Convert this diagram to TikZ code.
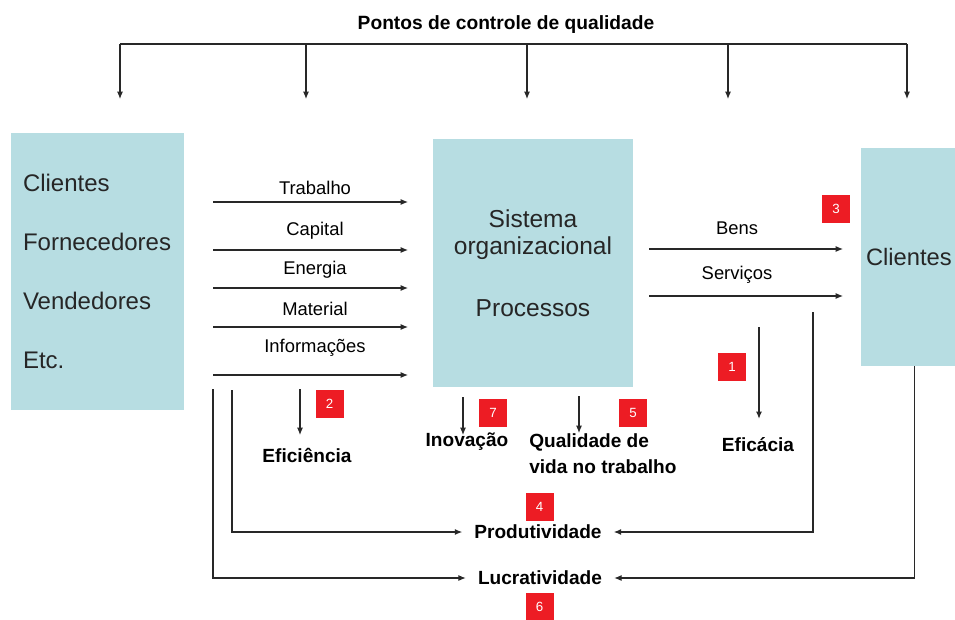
\documentclass[tikz,border=0pt]{standalone}
\usepackage{fontspec}
\setmainfont{Liberation Sans}
\usepackage{tikz}
\usetikzlibrary{arrows.meta}
\definecolor{azulclaro}{RGB}{183,221,226}
\definecolor{vermelho}{RGB}{237,28,36}
\definecolor{linha}{RGB}{40,40,40}
\tikzstyle{caixa} = [fill=azulclaro,
	inner sep=0pt,
	text=black!85
	]
\tikzstyle{traco} = [draw=linha,
	line width=0.8pt
	]
\tikzstyle{seta} = [draw=linha,
	->, line width=0.8pt
	]
\tikzstyle{marca} = [fill=vermelho,
	text=white,
	minimum size=21pt,
	inner sep=0pt,
	font=\fontsize{10}{12}\selectfont
	]
\tikzstyle{fluxo} = [inner sep=0pt,
	font=\fontsize{13.8}{16}\selectfont
	]
\tikzstyle{medida} = [inner sep=0pt,
	align=left,
	font=\bfseries\fontsize{14.3}{19.5}\selectfont
	]

\begin{document}
\begin{tikzpicture}[x=0.75pt, y=-0.75pt, >={Latex[length=5.5pt,width=4.5pt]}]
    \useasboundingbox (0,0) rectangle (955,620);
    \clip (0,0) rectangle (955,620);

    \node [caixa, minimum width=129.75pt, minimum height=207.75pt,
    	text width=111.75pt, align=left,
    	font=\fontsize{18}{44.3}\selectfont] (origem) at (97.5,271.5)
    	{Clientes\\Fornecedores\\Vendedores\\Etc.};
    \node [caixa, minimum width=150pt, minimum height=186pt,
    	align=center, font=\fontsize{18.4}{20.3}\selectfont] (sistema) at (533,263)
    	{Sistema\\organizacional\\[26pt]Processos};
    \node [caixa, minimum width=105pt, minimum height=163.5pt,
    	text width=97.5pt, align=left,
    	font=\fontsize{17.8}{22}\selectfont] (cliente) at (931,257) {Clientes};

    \node [medida, font=\bfseries\fontsize{14.4}{17}\selectfont] (titulo) at (506,25)
    	{Pontos de controle de qualidade};
    \coordinate (q1) at (120,44);
    \coordinate (q2) at (306,44);
    \coordinate (q3) at (527,44);
    \coordinate (q4) at (728,44);
    \coordinate (q5) at (907,44);
    \draw [traco] (q1) -- (q5);
    \draw [seta] (q1) -- ++(0,55);
    \draw [seta] (q2) -- ++(0,55);
    \draw [seta] (q3) -- ++(0,55);
    \draw [seta] (q4) -- ++(0,55);
    \draw [seta] (q5) -- ++(0,55);

    \node [fluxo] (trabalho) at (315,188) {Trabalho};
    \node [fluxo] (capital) at (315,231) {Capital};
    \node [fluxo] (energia) at (315,270) {Energia};
    \node [fluxo] (material) at (315,309) {Material};
    \node [fluxo] (informacoes) at (315,348) {Informações};
    \coordinate (e1) at (213,202);
    \coordinate (e2) at (213,250);
    \coordinate (e3) at (213,288);
    \coordinate (e4) at (213,327);
    \coordinate (e5) at (213,375);
    \draw [seta] (e1) -- ++(195,0);
    \draw [seta] (e2) -- ++(195,0);
    \draw [seta] (e3) -- ++(195,0);
    \draw [seta] (e4) -- ++(195,0);
    \draw [seta] (e5) -- ++(195,0);

    \node [fluxo] (bens) at (737,228) {Bens};
    \node [fluxo] (servicos) at (737,275) {Serviços};
    \coordinate (b1) at (649,249);
    \coordinate (b2) at (649,296);
    \draw [seta] (b1) -- ++(194,0);
    \draw [seta] (b2) -- ++(194,0);

    \node [medida] (eficiencia) at (307,455) {Eficiência};
    \node [medida] (inovacao) at (467,442) {Inovação};
    \node [medida, anchor=west] (qualidade) at (529,454)
    	{Qualidade de\\vida no trabalho};
    \node [medida] (eficacia) at (758,445) {Eficácia};
    \coordinate (d1) at (300,389);
    \coordinate (d2) at (463,397);
    \coordinate (d3) at (579,396);
    \coordinate (d4) at (759,327);
    \draw [seta] (d1) -- ++(0,46);
    \draw [seta] (d2) -- ++(0,38);
    \draw [seta] (d3) -- ++(0,37);
    \draw [seta, line width=1.5pt] (d4) -- ++(0,92);

    \node [medida, inner xsep=9pt] (produtividade) at (538,532) {Produtividade};
    \node [medida, inner xsep=9pt] (lucratividade) at (540,578) {Lucratividade};
    \coordinate (p0) at (232,390);
    \coordinate (p1) at (813,312);
    \coordinate (l0) at (213,389);
    \draw [seta] (p0) |- (produtividade);
    \draw [seta] (p1) |- (produtividade);
    \draw [seta] (l0) |- (lucratividade);
    \draw [seta] ([xshift=40.5pt]cliente.south west) |- (lucratividade);

    \node [marca] (m1) at (732,367) {1};
    \node [marca] (m2) at (329.5,404) {2};
    \node [marca] (m3) at (836,209) {3};
    \node [marca] (m4) at (539.5,506.5) {4};
    \node [marca] (m5) at (633,413) {5};
    \node [marca] (m6) at (539.5,607) {6};
    \node [marca] (m7) at (493,413) {7};
\end{tikzpicture}
\end{document}
